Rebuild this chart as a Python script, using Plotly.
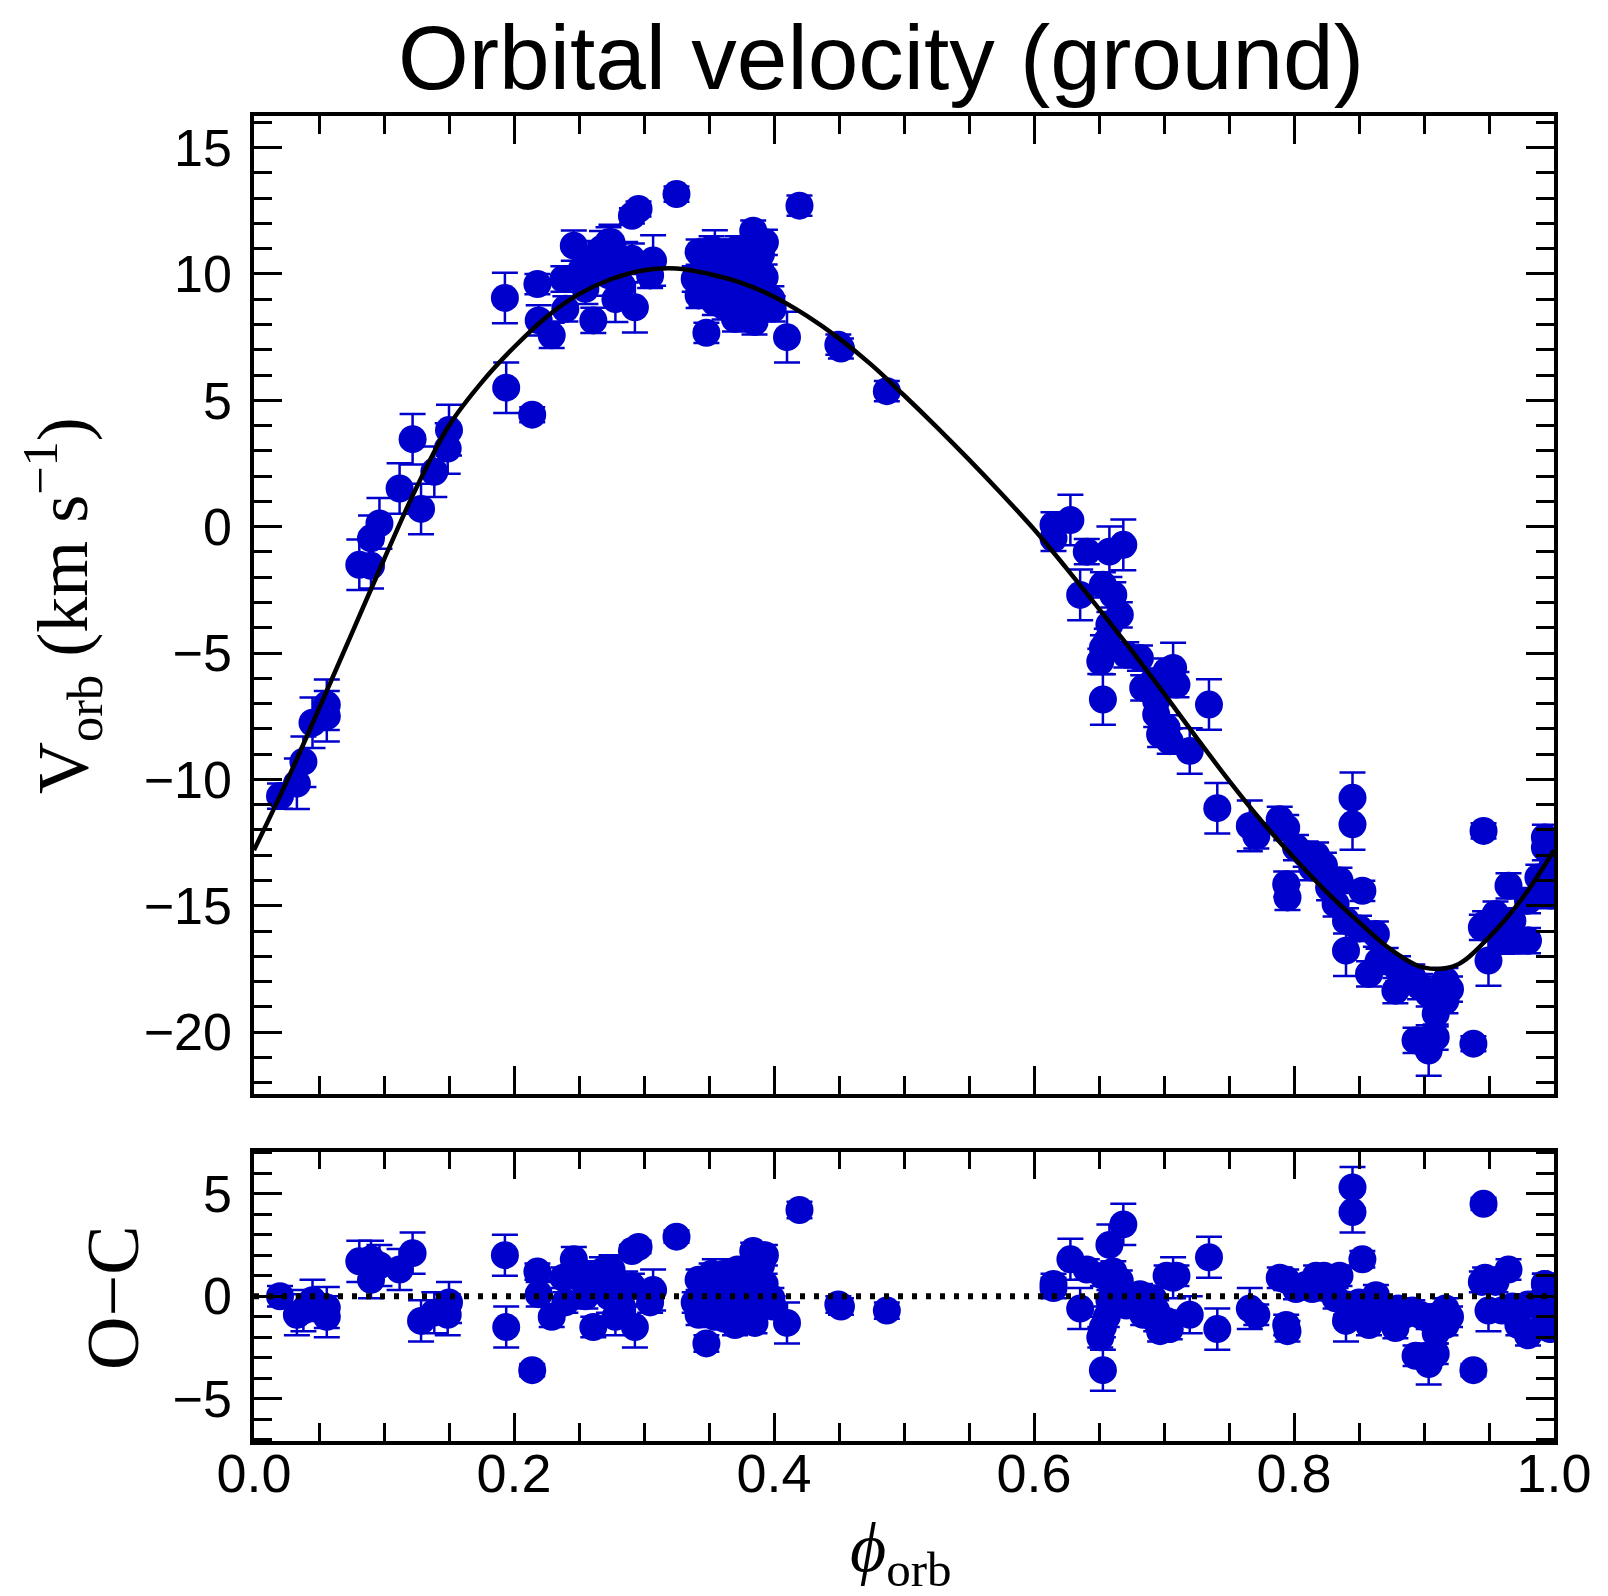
import plotly.graph_objects as go

# ---------------- data ----------------
phase = [0.020, 0.033, 0.038, 0.045, 0.056, 0.056, 0.081, 0.090, 0.090, 0.0965,
         0.112, 0.122, 0.1285, 0.1387, 0.149, 0.150, 0.193, 0.194, 0.214, 0.218,
         0.219, 0.229, 0.2395, 0.238, 0.246, 0.261, 0.2677, 0.275, 0.278, 0.2907,
         0.2958, 0.293, 0.3047, 0.307, 0.325, 0.2575, 0.2855, 0.273, 0.2549, 0.2727,
         0.2677, 0.2907, 0.283, 0.2523,
         0.3456, 0.3443, 0.348, 0.342, 0.352, 0.362, 0.372, 0.384, 0.390, 0.3928,
         0.398, 0.399, 0.410, 0.342, 0.3545, 0.367, 0.380, 0.380, 0.370, 0.3545,
         0.3596, 0.375, 0.3877, 0.339, 0.393, 0.385, 0.370, 0.3545, 0.4196, 0.4495,
         0.4515, 0.4868, 0.347, 0.357, 0.365, 0.377, 0.383, 0.362,
         0.615, 0.628, 0.615, 0.6406, 0.658, 0.6687, 0.6355, 0.653, 0.661, 0.666,
         0.658, 0.653, 0.651, 0.656, 0.653, 0.671, 0.6815, 0.684, 0.694, 0.694,
         0.702, 0.707, 0.7096, 0.697, 0.7044, 0.7198, 0.7346, 0.6916, 0.702, 0.741,
         0.766, 0.771, 0.789, 0.794, 0.8015, 0.809, 0.794, 0.795, 0.814, 0.827,
         0.832, 0.8526, 0.840, 0.840, 0.863, 0.8577, 0.8705, 0.878, 0.891, 0.9036,
         0.9165, 0.9165, 0.909, 0.8935, 0.9036, 0.909, 0.938, 0.845, 0.845, 0.9458,
         0.947, 0.9496, 0.965, 0.9726, 0.980, 0.980, 0.988, 0.993, 0.993, 0.993,
         0.955, 0.9445, 0.817, 0.823, 0.835, 0.885, 0.897, 0.912, 0.880, 0.920,
         0.865, 0.850, 0.960, 0.968, 0.999, 0.997]

v_orb = [-10.66, -10.17, -9.30, -7.76, -7.05, -7.50, -1.51, -1.55, -0.46, 0.13,
         1.51, 3.46, 0.70, 2.17, 3.09, 3.82, 9.05, 5.50, 4.43, 9.60,
         8.16, 7.57, 8.62, 9.80, 11.12, 8.16, 11.00, 11.25, 9.00, 12.30,
         12.57, 8.68, 9.94, 10.53, 13.16, 10.60, 10.46, 9.94, 9.41, 11.25,
         10.20, 10.60, 9.54, 10.20,
         10.60, 9.21, 7.67, 10.86, 10.99, 10.86, 10.99, 11.71, 10.79, 9.87,
         9.01, 8.62, 7.50, 9.15, 8.88, 9.15, 8.36, 8.88, 9.80, 9.94,
         10.46, 10.46, 10.46, 9.80, 11.25, 8.10, 8.22, 10.73, 12.70, 7.20,
         7.05, 5.36, 10.20, 9.50, 10.10, 9.20, 9.70, 8.70,
         0.07, 0.26, -0.46, -0.99, -0.99, -0.72, -2.70, -2.30, -2.70, -3.49,
         -3.88, -4.80, -5.33, -4.54, -6.84, -5.07, -5.20, -6.38, -6.90, -7.43,
         -5.72, -5.59, -6.25, -8.22, -8.49, -8.88, -7.04, -6.12, -7.96, -11.14,
         -11.84, -12.24, -11.58, -11.91, -12.70, -12.96, -14.15, -14.67, -13.49, -14.28,
         -14.93, -14.41, -15.60, -16.78, -16.12, -17.70, -17.17, -18.36, -17.83, -18.49,
         -17.96, -18.75, -19.28, -20.33, -20.73, -20.20, -20.46, -10.73, -11.78, -12.04,
         -15.72, -17.17, -14.21, -16.38, -16.38, -14.80, -13.88, -12.70, -12.30, -14.54,
         -15.33, -15.86, -13.00, -13.40, -14.00, -18.00, -18.20, -18.30, -17.50, -18.30,
         -17.20, -15.90, -16.40, -15.60, -13.40, -14.60]

v_err = [0.5, 1.0, 1.0, 1.0, 1.0, 1.0, 1.0, 0.9, 0.9, 1.0,
         1.0, 1.0, 1.0, 1.0, 1.0, 1.0, 1.0, 1.0, 0.3, 0.4,
         0.6, 0.5, 0.5, 0.5, 0.6, 0.5, 0.7, 0.7, 0.9, 0.3,
         0.3, 1.0, 0.5, 1.0, 0.3, 0.7, 0.8, 0.8, 0.6, 0.6,
         0.6, 0.6, 0.6, 0.6,
         0.5, 0.5, 0.4, 0.5, 0.5, 0.5, 0.5, 0.4, 0.5, 0.5,
         0.5, 0.5, 1.0, 0.5, 0.5, 0.5, 0.5, 0.5, 0.5, 0.5,
         0.5, 0.5, 0.5, 0.5, 0.5, 0.5, 0.5, 1.0, 0.4, 0.4,
         0.4, 0.4, 0.5, 0.5, 0.5, 0.5, 0.5, 0.5,
         0.5, 1.0, 0.5, 0.5, 1.0, 1.0, 1.0, 0.5, 0.5, 0.5,
         0.5, 0.5, 0.5, 0.5, 1.0, 0.5, 0.5, 0.5, 0.5, 0.5,
         0.5, 1.0, 0.5, 0.5, 0.5, 0.9, 1.0, 0.5, 0.5, 1.0,
         1.0, 0.5, 0.5, 0.5, 0.5, 0.5, 0.5, 0.5, 0.5, 0.5,
         0.5, 0.4, 0.5, 1.0, 0.5, 0.5, 0.5, 0.5, 0.5, 0.5,
         0.5, 0.5, 0.5, 0.5, 1.0, 0.5, 0.3, 1.0, 1.0, 0.3,
         0.5, 1.0, 0.5, 0.5, 0.5, 0.5, 0.5, 0.5, 0.5, 0.5,
         0.5, 0.5, 0.5, 0.5, 0.5, 0.5, 0.5, 0.5, 0.5, 0.5,
         0.5, 0.5, 0.5, 0.5, 0.5, 0.5]

o_minus_c = [0.0, -0.9, -0.7, -0.2, -0.55, -1.0, 1.7, 0.8, 1.8, 1.5,
             1.3, 2.1, -1.2, -0.8, -0.9, -0.3, 2.0, -1.5, -3.6, 1.2,
             0.1, -1.0, -0.3, 0.9, 1.8, -1.5, 1.2, 1.3, -1.0, 2.2,
             2.4, -1.5, -0.3, 0.3, 2.9, 1.0, 0.4, 0.0, 0.0, 1.3,
             0.4, 0.5, -0.5, 0.8,
             0.6, -0.8, -2.3, 0.8, 1.1, 1.1, 1.3, 2.2, 1.5, 0.6,
             -0.1, -0.5, -1.3, -0.9, -1.0, -0.6, -1.1, -0.6, 0.1, 0.05,
             0.6, 0.9, 1.1, -0.3, 2.0, -1.3, -1.4, 0.8, 4.2, -0.4,
             -0.5, -0.7, 0.2, -0.4, 0.35, -0.4, 0.3, -1.1,
             0.6, 1.8, 0.4, 1.3, 2.5, 3.5, -0.6, 1.0, 1.2, 0.76,
             -0.2, -1.5, -2.0, -1.0, -3.6, -0.45, 0.1, -0.9, -0.7, -1.2,
             1.0, 0.9, 1.0, -1.7, -1.6, -0.9, 1.9, -0.1, -1.2, -1.6,
             -0.6, -0.9, 0.9, 0.8, 0.35, 0.55, -1.4, -1.7, 0.35, 0.3,
             -0.1, 1.8, -0.4, -1.2, 0.05, -1.4, -0.65, -1.55, -0.7, -1.1,
             -0.6, -1.4, -1.8, -2.9, -3.3, -2.8, -3.6, 5.3, 4.1, 4.5,
             0.9, -0.7, 1.3, -1.4, -1.9, -0.4, -0.3, 0.6, 0.6, -1.2,
             0.7, 0.7, 1.0, 1.0, 1.0, -0.9, -0.9, -0.9, -0.6, -1.0,
             -1.0, -0.3, -0.7, -0.5, -0.6, -1.6]

curve_phase = [0.000, 0.025, 0.050, 0.075, 0.100, 0.125, 0.150, 0.175, 0.200, 0.225,
               0.250, 0.275, 0.300, 0.325, 0.350, 0.375, 0.400, 0.425, 0.450, 0.475,
               0.500, 0.525, 0.550, 0.575, 0.600, 0.625, 0.650, 0.675, 0.700, 0.725,
               0.750, 0.775, 0.800, 0.825, 0.850, 0.875, 0.900, 0.925, 0.950, 0.975,
               1.000]
curve_v = [-12.8, -10.1, -7.2, -4.25, -1.3, 1.55, 4.0, 5.7, 7.1, 8.3,
           9.2, 9.8, 10.15, 10.22, 10.0, 9.65, 9.1, 8.35, 7.45, 6.4,
           5.2, 3.95, 2.65, 1.3, -0.1, -1.65, -3.25, -4.9, -6.6, -8.35,
           -10.05, -11.65, -13.1, -14.45, -15.65, -16.75, -17.45, -17.35, -16.25, -14.75,
           -12.8]

x_ticks = [0.0, 0.2, 0.4, 0.6, 0.8, 1.0]

# ---------------- layout helpers ----------------
BLUE = "#0000CC"
W, H = 1600, 1588
L, R, T, B = 246, 54, 108, 155
PW, PH = W - L - R, H - T - B
OFF = 8


def pxp(x):
    return (x - OFF - L) / PW


def pyp(y):
    return 1 - (y - OFF - T) / PH


SANS = "Liberation Sans, Arial, Helvetica, sans-serif"
SERIF = "Liberation Serif, Times New Roman, serif"

fig = go.Figure()

fig.add_trace(go.Scatter(
    x=phase, y=v_orb, mode="markers",
    marker=dict(color=BLUE, size=28, line=dict(width=0)),
    error_y=dict(type="data", array=v_err, visible=True, color=BLUE,
                 thickness=2.5, width=13),
    xaxis="x", yaxis="y", hoverinfo="skip"))

fig.add_trace(go.Scatter(
    x=curve_phase, y=curve_v, mode="lines",
    line=dict(color="black", width=4.5, shape="spline", smoothing=1.0),
    xaxis="x", yaxis="y", hoverinfo="skip"))

fig.add_trace(go.Scatter(
    x=phase, y=o_minus_c, mode="markers",
    marker=dict(color=BLUE, size=28, line=dict(width=0)),
    error_y=dict(type="data", array=v_err, visible=True, color=BLUE,
                 thickness=2.5, width=13),
    xaxis="x2", yaxis="y2", hoverinfo="skip"))

fig.add_trace(go.Scatter(
    x=[x_ticks[0], x_ticks[-1]], y=[0, 0], mode="lines",
    line=dict(color="black", width=6, dash="5px,9px"),
    xaxis="x2", yaxis="y2", hoverinfo="skip"))

axis_common = dict(
    showline=True, linecolor="black", linewidth=3.5, mirror="allticks",
    ticks="inside", ticklen=28, tickwidth=2.5, tickcolor="black",
    showgrid=False, zeroline=False,
    tickfont=dict(family=SANS, size=52, color="black"),
    minor=dict(ticks="inside", ticklen=18, tickwidth=2.5, tickcolor="black",
               showgrid=False),
)

top_dom = [pyp(1093.5), 1]
bot_dom = [0, pyp(1151.5)]

fig.update_layout(
    width=W, height=H, autosize=False,
    margin=dict(l=L, r=R, t=T, b=B, pad=0),
    paper_bgcolor="white", plot_bgcolor="white",
    showlegend=False,
    xaxis=dict(axis_common, domain=[0, 1], anchor="y", range=[0, 1],
               tickmode="array", tickvals=x_ticks, showticklabels=False,
               minor=dict(axis_common["minor"], dtick=0.05, tick0=0)),
    xaxis2=dict(axis_common, domain=[0, 1], anchor="y2", range=[0, 1],
                tickmode="array", tickvals=x_ticks,
                ticktext=["%.1f" % t for t in x_ticks],
                tickfont=dict(family=SANS, size=54, color="black"),
                ticklabelstandoff=-18,
                minor=dict(axis_common["minor"], dtick=0.05, tick0=0)),
    yaxis=dict(axis_common, domain=top_dom, anchor="x",
               range=[-22.43, 16.25], tick0=0, dtick=5,
               ticklabelstandoff=8,
               minor=dict(axis_common["minor"], dtick=1, tick0=0)),
    yaxis2=dict(axis_common, domain=bot_dom, anchor="x2",
                range=[-7.05, 7.05], tick0=0, dtick=5,
                ticklabelstandoff=8,
                minor=dict(axis_common["minor"], dtick=1, tick0=0)),
)

fig.add_annotation(text="Orbital velocity (ground)", xref="paper", yref="paper",
                   x=pxp(881), y=pyp(58), xanchor="center", yanchor="middle",
                   showarrow=False, font=dict(family=SANS, size=91, color="black"))
fig.add_annotation(text="V<sub>orb</sub> (km s<sup>\u22121</sup>)", xref="paper", yref="paper",
                   x=pxp(62), y=pyp(605), xanchor="center", yanchor="middle",
                   textangle=-90, showarrow=False,
                   font=dict(family=SERIF, size=72, color="black"))
fig.add_annotation(text="O\u2212C", xref="paper", yref="paper",
                   x=pxp(113), y=pyp(1298), xanchor="center", yanchor="middle",
                   textangle=-90, showarrow=False,
                   font=dict(family=SERIF, size=74, color="black"))
fig.add_annotation(text="<i>\u03d5</i><sub>orb</sub>", xref="paper", yref="paper",
                   x=pxp(901), y=pyp(1553), xanchor="center", yanchor="middle",
                   showarrow=False, font=dict(family=SERIF, size=70, color="black"))

fig.write_html("out.html")
